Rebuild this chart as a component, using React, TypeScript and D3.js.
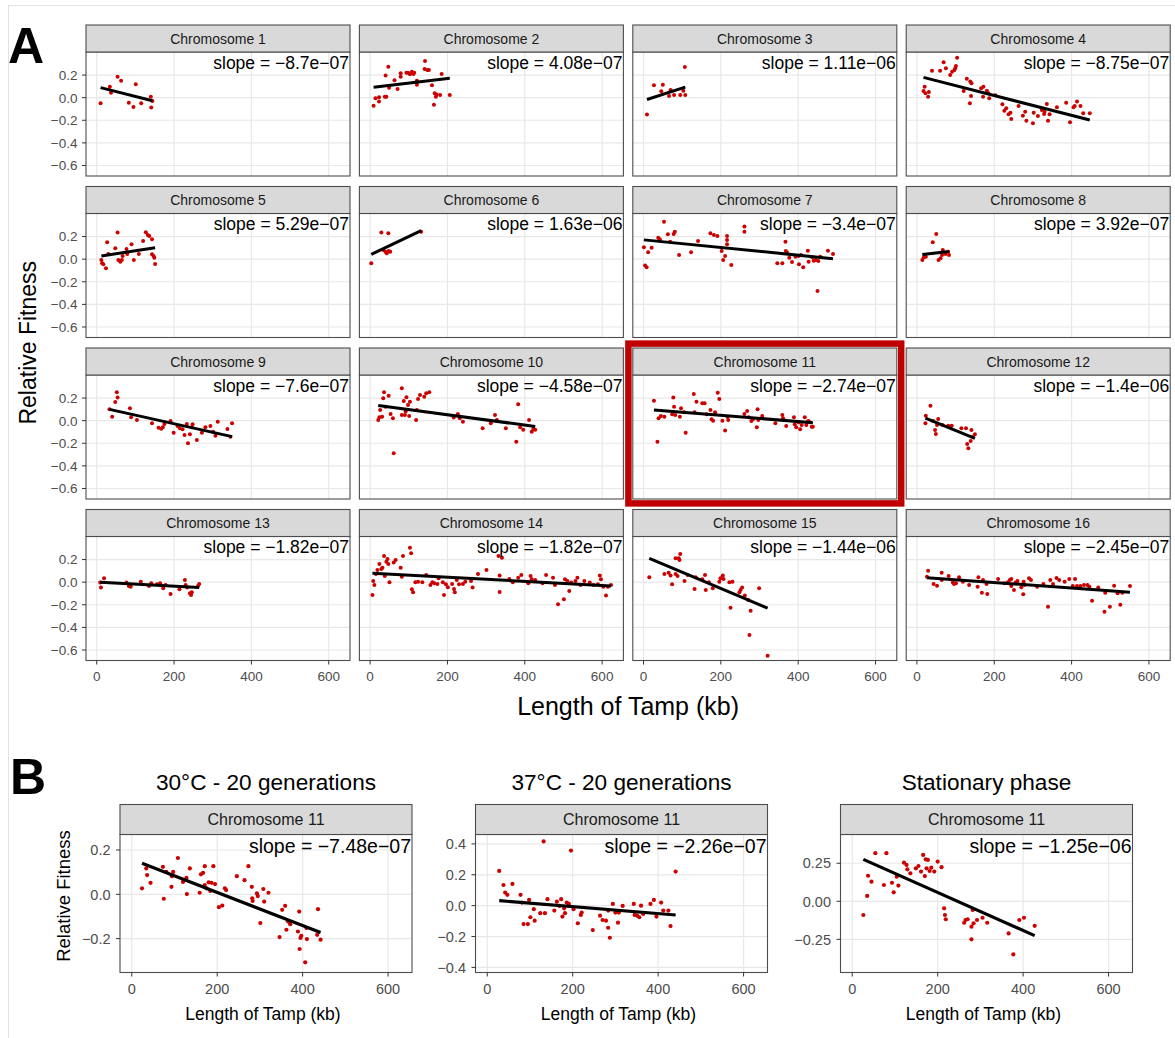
import React from 'react';
import * as d3 from 'd3';

const FONT = "'Liberation Sans', Arial, Helvetica, sans-serif";
type Pt = [number, number];

// ---------- Panel A data (x = Tamp length in kb, y = relative fitness) ----------
const chromosomeNames = Array.from({ length: 16 }, (_, i) => `Chromosome ${i + 1}`);

const chr1: Pt[] = [[10,-0.05],[34,0.097],[37,0.044],[54,0.186],[63,0.15],[83,-0.044],[95,-0.082],[101,0.118],[115,-0.05],[140,0.009],[144,-0.03],[141,-0.088]];
const chr2: Pt[] = [[9,-0.071],[14,-0.005],[23,-0.035],[23,0.003],[38,0.009],[42,0.009],[40,0.195],[47,0.274],[49,0.088],[63,0.154],[71,0.077],[79,0.186],[79,0.216],[94,0.221],[98,0.221],[103,0.207],[108,0.23],[112,0.21],[114,0.221],[121,0.115],[121,0.15],[142,0.325],[141,0.254],[148,0.245],[152,0.245],[160,0.11],[167,0.039],[170,0.009],[172,0.027],[181,0.024],[165,-0.062],[185,0.21],[206,0.024]];
const chr3: Pt[] = [[9,-0.15],[27,0.11],[50,0.115],[46,0.057],[66,0.015],[70,0.068],[79,0.024],[95,0.024],[103,0.062],[108,0.024],[107,0.272]];
const chr4: Pt[] = [[20,0.097],[17,0.059],[22,0.039],[29,0.009],[31,0.05],[39,0.239],[60,0.239],[69,0.313],[75,0.26],[86,0.2],[91,0.23],[99,0.26],[97,0.245],[104,0.354],[101,0.28],[121,0.059],[129,0.168],[138,0.142],[141,0.127],[140,0.015],[137,-0.05],[166,0.083],[172,0.097],[181,0.062],[185,0.039],[171,0.009],[187,-0.005],[203,0.021],[221,-0.058],[231,-0.094],[226,-0.115],[237,-0.147],[242,-0.133],[244,-0.188],[263,-0.073],[274,-0.159],[280,-0.124],[283,-0.204],[302,-0.133],[300,-0.227],[313,-0.162],[323,-0.109],[329,-0.144],[330,-0.124],[336,-0.056],[339,-0.204],[343,-0.147],[362,-0.085],[386,-0.044],[396,-0.218],[405,-0.085],[414,-0.035],[408,-0.073],[423,-0.073],[430,-0.138],[447,-0.138]];
const chr5: Pt[] = [[12,-0.007],[14,-0.037],[17,-0.045],[24,-0.08],[27,0.149],[30,0.046],[48,0.096],[54,0.235],[56,-0.007],[61,-0.022],[67,0.028],[65,-0.007],[77,0.09],[79,0.046],[90,0.132],[96,-0.007],[109,0.046],[120,0.161],[127,0.238],[132,0.214],[136,0.205],[143,0.176],[143,0.043],[149,0.013],[147,0.028],[151,-0.042]];
const chr6: Pt[] = [[3,-0.037],[29,0.235],[47,0.229],[34,0.081],[40,0.066],[43,0.052],[48,0.073],[52,0.066],[132,0.243]];
const chr7: Pt[] = [[1,0.105],[4,-0.057],[8,-0.072],[12,0.061],[21,0.102],[38,0.19],[42,0.176],[53,0.332],[63,0.22],[69,0.155],[78,0.223],[81,0.243],[92,0.037],[123,0.061],[141,0.161],[173,0.229],[182,0.214],[191,0.205],[202,0.073],[206,-0.007],[211,0.028],[216,0.205],[216,0.17],[216,0.132],[227,-0.051],[261,0.288],[261,0.243],[346,-0.036],[359,-0.036],[367,0.155],[368,0.073],[371,0.058],[377,0.013],[384,-0.025],[393,0.022],[401,0.028],[402,-0.045],[407,0.037],[413,-0.072],[425,0.075],[427,-0.022],[436,0.017],[440,-0.013],[445,-0.007],[450,-0.281],[452,-0.016],[457,0.022],[477,0.075],[490,0.046]];
const chr8: Pt[] = [[14,-0.007],[18,0.017],[23,0.022],[41,0.149],[50,0.223],[56,-0.007],[61,0.008],[65,0.037],[67,0.081],[74,0.046],[81,0.066],[83,0.037]];
const chr9: Pt[] = [[33,0.1],[40,0.035],[48,0.165],[52,0.251],[54,0.204],[86,0.11],[89,0.03],[104,0.006],[143,-0.023],[160,-0.062],[167,-0.071],[171,-0.058],[175,-0.029],[191,-0.003],[199,-0.106],[209,-0.047],[215,-0.067],[222,-0.076],[227,-0.127],[233,-0.029],[236,-0.2],[241,-0.12],[246,-0.058],[248,-0.032],[259,-0.171],[272,-0.106],[281,-0.058],[294,-0.047],[301,-0.097],[307,-0.133],[313,-0.009],[338,-0.073],[346,-0.142],[350,-0.023]];
const chr10: Pt[] = [[21,0.006],[24,0.03],[26,0.095],[31,0.035],[34,0.198],[36,0.251],[40,0.124],[48,0.221],[53,0.059],[59,0.021],[61,-0.288],[82,0.287],[82,0.05],[87,0.174],[90,0.05],[92,0.08],[94,0.207],[98,0.139],[101,0.042],[103,0.168],[119,0.006],[121,0.095],[124,0.192],[129,0.227],[140,0.212],[145,0.242],[153,0.251],[216,0.027],[227,0.059],[232,0.021],[240,-0.009],[291,-0.067],[312,-0.023],[323,0.05],[328,0.006],[351,-0.067],[378,-0.186],[383,0.145],[388,-0.058],[396,-0.081],[411,0.006],[418,-0.097],[422,-0.073],[427,-0.081]];
const chr11: Pt[] = [[27,0.177],[36,-0.186],[39,0.021],[45,0.042],[54,0.035],[77,0.204],[79,0.124],[74,0.057],[82,0.05],[94,0.035],[97,0.11],[105,0.074],[109,-0.106],[130,0.236],[132,0.074],[137,0.168],[152,0.154],[158,0.154],[163,0.057],[173,0.095],[176,0.012],[180,0],[185,0.074],[192,0.248],[196,0.192],[204,0],[211,-0.088],[217,0.035],[219,0.006],[261,0.059],[268,0.086],[272,0.03],[279,-0.003],[284,0.015],[293,-0.058],[295,0.101],[297,0.006],[307,0.042],[341,-0.023],[359,0.05],[361,0.021],[369,-0.047],[389,0.03],[391,-0.032],[395,-0.058],[401,-0.014],[405,-0.076],[409,-0.038],[417,0.03],[421,-0.038],[426,-0.003],[430,-0.014],[435,-0.053],[438,-0.053]];
const chr12: Pt[] = [[22,-0.023],[23,0.044],[35,0.133],[42,-0.003],[47,-0.082],[49,-0.118],[52,-0.038],[55,0.015],[66,-0.038],[81,-0.044],[90,-0.044],[115,-0.067],[127,-0.067],[130,-0.206],[133,-0.244],[141,-0.082],[139,-0.18],[150,-0.12],[145,-0.142]];
const chr13: Pt[] = [[11,-0.048],[9,-0.004],[19,0.035],[77,-0.004],[83,-0.034],[88,-0.04],[114,0.004],[135,-0.034],[141,-0.01],[156,-0.019],[164,-0.01],[172,-0.054],[178,-0.025],[191,-0.105],[214,-0.063],[228,0.019],[230,-0.025],[234,-0.048],[241,-0.098],[244,-0.113],[246,-0.09],[262,-0.034],[265,-0.016]];
const chr14: Pt[] = [[6,-0.113],[8,0.011],[11,-0.025],[15,0.073],[19,0.108],[24,0.161],[29,0.117],[32,0.128],[36,0.232],[38,0.055],[42,0.181],[45,0.205],[47,0.161],[50,-0.001],[61,0.173],[66,0.196],[79,0.128],[82,0.049],[85,0.232],[103,0.305],[106,0.256],[108,-0.063],[111,-0.089],[117,-0.001],[124,0.004],[135,-0.001],[145,0.064],[156,-0.025],[161,-0.001],[166,-0.01],[174,-0.016],[177,0.035],[188,-0.001],[191,-0.113],[196,-0.019],[201,-0.045],[212,-0.016],[217,-0.06],[219,-0.089],[224,0.019],[230,-0.019],[240,-0.016],[246,0.004],[261,0.011],[265,-0.048],[279,0.073],[301,0.108],[335,0.058],[335,-0.087],[332,0.232],[341,0.217],[360,0.028],[369,-0.001],[383,0.04],[391,0.064],[409,-0.01],[415,0.055],[418,0.026],[427,0.019],[446,-0.01],[455,0.064],[473,0.04],[478,-0.025],[486,-0.196],[501,-0.151],[504,0.026],[510,0.011],[515,-0.078],[520,-0.004],[531,0.011],[536,0.04],[544,-0.025],[554,0.011],[568,-0.004],[578,-0.025],[589,-0.019],[594,0.058],[597,0.026],[603,-0.04],[610,-0.119],[615,-0.04],[623,-0.025]];
const chr15: Pt[] = [[15,0.043],[54,0.073],[65,0.084],[70,0.058],[74,-0.019],[83,0.073],[83,0.211],[88,0.055],[91,0.211],[93,0.196],[95,0.25],[106,0.011],[114,0.064],[132,-0.06],[135,0.043],[152,0.026],[159,0.064],[161,-0.069],[169,-0.001],[179,-0.054],[196,0.004],[199,0.035],[205,0.058],[207,0.028],[222,-0.001],[225,-0.226],[230,0.004],[248,-0.089],[251,-0.069],[255,-0.048],[262,-0.119],[271,-0.157],[274,-0.467],[277,-0.252],[299,-0.054],[321,-0.65]];
const chr16: Pt[] = [[26,0.049],[29,0.102],[43,-0.016],[52,-0.031],[64,0.084],[64,0.019],[82,0.055],[93,-0.004],[96,-0.016],[101,-0.01],[109,0.043],[119,0.004],[135,-0.025],[157,-0.04],[159,0.043],[168,-0.093],[171,0.019],[180,-0.016],[182,-0.104],[210,0.028],[226,-0.01],[235,-0.001],[240,0.019],[244,0.028],[244,-0.034],[251,-0.069],[255,-0.004],[260,0.011],[270,-0.045],[275,-0.107],[276,0.004],[278,-0.025],[290,0.035],[295,0.019],[311,-0.04],[327,-0.016],[339,-0.217],[345,0.019],[352,-0.016],[361,0.037],[368,0.019],[382,0.004],[394,0.028],[403,-0.034],[409,0.028],[414,-0.034],[423,-0.034],[432,-0.025],[441,-0.025],[446,-0.04],[453,-0.164],[469,-0.048],[485,-0.261],[487,-0.093],[499,-0.217],[510,-0.031],[519,-0.098],[526,-0.2],[531,-0.093],[551,-0.034]];

const panelAPoints: Pt[][] = [chr1, chr2, chr3, chr4, chr5, chr6, chr7, chr8, chr9, chr10, chr11, chr12, chr13, chr14, chr15, chr16];
// slope per bp (as printed), intercept of the fitted line (fitness at 0 kb)
const panelASlopes = [-8.7e-7, 4.08e-7, 1.11e-6, -8.75e-7, 5.29e-7, 1.63e-6, -3.4e-7, 3.92e-7, -7.6e-7, -4.58e-7, -2.74e-7, -1.4e-6, -1.82e-7, -1.82e-7, -1.44e-6, -2.45e-7];
const panelAIntercepts = [0.0976, 0.088, -0.026, 0.194, 0.022, 0.038, 0.171, 0.035, 0.125, 0.144, 0.102, 0.054, 0.001, 0.080, 0.232, 0.0465];

const aXTicks = [0, 200, 400, 600];
const aYTicks = [0.2, 0, -0.2, -0.4, -0.6];
const aXDomain: [number, number] = [-27.7, 655];
const aYDomain: [number, number] = [-0.693, 0.404];
const highlightedChromosome = 11;

// ---------- Panel B data ----------
const bTitles = ['30°C - 20 generations', '37°C - 20 generations', 'Stationary phase'];
const bStripLabel = 'Chromosome 11';
const b30: Pt[] = [[24,0.027],[34,0.117],[36,0.087],[44,0.052],[75,-0.02],[73,0.124],[81,0.101],[93,0.034],[94,0.082],[97,0.101],[108,0.164],[120,0.056],[128,0.074],[129,0.001],[136,0.117],[159,0.007],[162,0.09],[167,0.097],[171,0.127],[171,0.042],[175,0.027],[180,0.054],[184,0.015],[187,0.052],[191,0.127],[195,0.046],[204,-0.058],[212,-0.051],[218,0.027],[221,0.019],[246,0.082],[264,0.064],[273,0.127],[281,0.034],[282,-0.018],[283,-0.03],[293,0.004],[295,-0.008],[301,-0.13],[308,0.024],[310,-0.033],[320,0.007],[346,-0.193],[352,-0.07],[359,-0.052],[362,-0.16],[365,-0.12],[369,-0.127],[371,-0.135],[389,-0.168],[392,-0.078],[393,-0.247],[395,-0.197],[397,-0.187],[406,-0.307],[409,-0.152],[410,-0.202],[434,-0.183],[436,-0.067],[442,-0.205]];
const b37: Pt[] = [[28,0.225],[38,0.134],[42,0.085],[47,0.07],[59,0.141],[78,0.07],[81,0.02],[85,-0.119],[95,-0.119],[98,0.037],[101,-0.075],[109,-0.023],[111,-0.097],[124,-0.049],[132,0.416],[135,-0.049],[141,0.042],[157,-0.032],[163,0.026],[169,-0.002],[173,0.042],[176,-0.071],[180,-0.017],[182,-0.049],[186,0.02],[191,0.011],[196,0.357],[202,-0.023],[212,-0.114],[219,-0.06],[221,-0.045],[247,-0.158],[264,-0.065],[270,-0.093],[278,-0.097],[283,-0.143],[287,-0.208],[283,-0.032],[294,0.011],[300,-0.045],[306,-0.11],[308,-0.045],[317,-0.002],[343,0.011],[345,-0.06],[351,-0.065],[356,-0.075],[360,0],[365,-0.054],[382,0.011],[390,0.037],[396,-0.071],[407,0.02],[412,-0.032],[424,-0.032],[429,-0.132],[441,0.221]];
const bStat: Pt[] = [[26,-0.09],[35,0.035],[37,0.168],[45,0.129],[54,0.316],[74,0.107],[80,0.316],[93,0.122],[97,0.059],[104,0.162],[108,0.103],[121,0.254],[127,0.239],[129,0.21],[136,0.184],[149,0.217],[155,0.232],[161,0.195],[166,0.305],[170,0.166],[172,0.276],[174,0.217],[177,0.272],[181,0.199],[185,0.221],[192,0.195],[200,0.261],[209,0.224],[215,-0.046],[217,-0.09],[219,-0.118],[262,-0.141],[265,-0.123],[270,-0.118],[279,-0.25],[279,-0.167],[282,-0.057],[284,-0.145],[292,-0.123],[305,-0.108],[316,-0.141],[366,-0.211],[377,-0.349],[391,-0.123],[402,-0.108],[427,-0.161]];
const bPoints: Pt[][] = [b30, b37, bStat];
const bSlopes = [-7.48e-7, -2.26e-7, -1.25e-6];
const bIntercepts = [0.158, 0.039, 0.308];
const bYTicks = [[0.2, 0, -0.2], [0.4, 0.2, 0, -0.2, -0.4], [0.25, 0, -0.25]];
const bYFormats = ['.1f', '.1f', '.2f'];
const bYDomains: [number, number][] = [[-0.353, 0.27], [-0.433, 0.461], [-0.468, 0.439]];
const bXDomain: [number, number] = [-27.5, 656];
const bXTicks = [0, 200, 400, 600];

function fmtSlope(s: number): string {
  const [m, e] = s.toExponential(2).split('e');
  const mant = String(parseFloat(m));
  const ex = parseInt(e, 10);
  const exStr = (ex < 0 ? '-' : '+') + String(Math.abs(ex)).padStart(2, '0');
  return `slope = ${mant}e${exStr}`.replace(/-/g, '\u2212');
}

function Panel(p: any) {
  const top = p.stripTop + p.stripH;
  const bottom = top + p.plotH;
  const right = p.left + p.width;
  const x = d3.scaleLinear().domain(p.xDom).range([p.left, right]);
  const y = d3.scaleLinear().domain(p.yDom).range([bottom, top]);
  const ext = d3.extent(p.points as Pt[], (d) => d[0]) as [number, number];
  const fit = (k: number) => p.intercept + p.slope * 1000 * k;
  const linePath = d3.line<number>().x((k) => x(k)).y((k) => y(fit(k)))(ext) || '';
  const yFmt = d3.format(p.yFmt);
  return (
    <g>
      <rect x={p.left} y={top} width={p.width} height={p.plotH} fill="#fff" />
      {p.xTicks.map((t: number) => (
        <line key={'gx' + t} x1={x(t)} x2={x(t)} y1={top} y2={bottom} stroke="#E8E8E8" strokeWidth={1.2} />
      ))}
      {p.yTicks.map((t: number) => (
        <line key={'gy' + t} x1={p.left} x2={right} y1={y(t)} y2={y(t)} stroke="#E8E8E8" strokeWidth={1.2} />
      ))}
      {(p.points as Pt[]).map((d, i) => (
        <circle key={i} cx={x(d[0])} cy={y(d[1])} r={p.r} fill="#CC0000" />
      ))}
      <path d={linePath} stroke="#000" strokeWidth={p.lineW} fill="none" />
      <text x={right - 1} y={top + p.slopeDy} textAnchor="end" fontSize={p.slopeFont} fill="#000">
        {fmtSlope(p.slope)}
      </text>
      <rect x={p.left} y={top} width={p.width} height={p.plotH} fill="none" stroke="#4d4d4d" strokeWidth={1.1} />
      <rect x={p.left} y={p.stripTop} width={p.width} height={p.stripH} fill="#D9D9D9" stroke="#4d4d4d" strokeWidth={1.1} />
      <text x={p.left + p.width / 2} y={p.stripTop + p.stripH / 2} dy="0.36em" textAnchor="middle" fontSize={p.stripFont} fill="#1A1A1A">
        {p.stripLabel}
      </text>
      {p.showY &&
        p.yTicks.map((t: number) => (
          <g key={'ty' + t}>
            <line x1={p.left - 4} x2={p.left} y1={y(t)} y2={y(t)} stroke="#333" strokeWidth={1} />
            <text x={p.left - p.yLabOff} y={y(t)} dy="0.36em" textAnchor="end" fontSize={p.tickFont} fill="#4D4D4D">
              {yFmt(t)}
            </text>
          </g>
        ))}
      {p.showX &&
        p.xTicks.map((t: number) => (
          <g key={'tx' + t}>
            <line x1={x(t)} x2={x(t)} y1={bottom} y2={bottom + 4} stroke="#333" strokeWidth={1} />
            <text x={x(t)} y={bottom + p.xLabOff} dy="0.36em" textAnchor="middle" fontSize={p.tickFont} fill="#4D4D4D">
              {t}
            </text>
          </g>
        ))}
    </g>
  );
}

export default function App() {
  // Panel A facet geometry
  const aLeft0 = 86, aColStep = 273.4, aW = 264;
  const aTop0 = 25, aRowStep = 161.5, aStripH = 27, aPlotH = 124;
  const hi = highlightedChromosome - 1;
  const hiCol = hi % 4, hiRow = Math.floor(hi / 4);
  const hiPad = 4.4;

  const bLefts = [120, 475.5, 840.5];
  const bW = 292, bStripTop = 804.5, bStripH = 30, bPlotH = 138;

  return (
    <svg width={1175} height={1038} style={{ position: 'absolute', left: 0, top: 0, fontFamily: FONT }}>
      <rect x={0} y={0} width={1175} height={1038} fill="#fff" />
      <line x1={8.5} x2={8.5} y1={5} y2={1038} stroke="#E2E2E2" strokeWidth={1} />
      <line x1={8} x2={1175} y1={5.5} y2={5.5} stroke="#E2E2E2" strokeWidth={1} />

      <text x={8} y={63} fontSize={50} fontWeight="bold" fill="#000">A</text>
      <text x={10} y={794} fontSize={50} fontWeight="bold" fill="#000">B</text>

      {panelAPoints.map((pts, i) => {
        const col = i % 4, row = Math.floor(i / 4);
        return (
          <Panel
            key={i}
            left={aLeft0 + col * aColStep}
            stripTop={aTop0 + row * aRowStep}
            width={aW}
            stripH={aStripH}
            plotH={aPlotH}
            xDom={aXDomain}
            yDom={aYDomain}
            xTicks={aXTicks}
            yTicks={aYTicks}
            yFmt=".1f"
            showY={col === 0}
            showX={row === 3}
            stripLabel={chromosomeNames[i]}
            stripFont={14}
            points={pts}
            slope={panelASlopes[i]}
            intercept={panelAIntercepts[i]}
            slopeFont={17.5}
            slopeDy={16.5}
            tickFont={13.5}
            yLabOff={8.5}
            xLabOff={16}
            r={2}
            lineW={3}
          />
        );
      })}

      <rect
        x={aLeft0 + hiCol * aColStep - hiPad}
        y={aTop0 + hiRow * aRowStep - hiPad}
        width={aW + 2 * hiPad}
        height={aStripH + aPlotH + 2 * hiPad}
        fill="none"
        stroke="#C00000"
        strokeWidth={6.5}
      />

      <text
        transform={`translate(28, ${(aTop0 + aTop0 + 3 * aRowStep + aStripH + aPlotH) / 2}) rotate(-90)`}
        textAnchor="middle"
        dy="0.36em"
        fontSize={23}
        fill="#000"
      >
        Relative Fitness
      </text>
      <text x={aLeft0 + (3 * aColStep + aW) / 2} y={706} dy="0.36em" textAnchor="middle" fontSize={25} fill="#000">
        Length of Tamp (kb)
      </text>

      {bPoints.map((pts, i) => (
        <g key={'b' + i}>
          <text x={bLefts[i] + bW / 2} y={782} dy="0.36em" textAnchor="middle" fontSize={22.6} fill="#000">
            {bTitles[i]}
          </text>
          <Panel
            left={bLefts[i]}
            stripTop={bStripTop}
            width={bW}
            stripH={bStripH}
            plotH={bPlotH}
            xDom={bXDomain}
            yDom={bYDomains[i]}
            xTicks={bXTicks}
            yTicks={bYTicks[i]}
            yFmt={bYFormats[i]}
            showY={true}
            showX={true}
            stripLabel={bStripLabel}
            stripFont={16}
            points={pts}
            slope={bSlopes[i]}
            intercept={bIntercepts[i]}
            slopeFont={19.5}
            slopeDy={18}
            tickFont={14.5}
            yLabOff={9.5}
            xLabOff={16.5}
            r={2.1}
            lineW={3.2}
          />
          <text x={bLefts[i] + bW / 2 - 3} y={1014} dy="0.36em" textAnchor="middle" fontSize={17.5} fill="#000">
            Length of Tamp (kb)
          </text>
        </g>
      ))}
      <text transform={`translate(63, 896) rotate(-90)`} textAnchor="middle" dy="0.36em" fontSize={18.5} fill="#000">
        Relative Fitness
      </text>
    </svg>
  );
}
